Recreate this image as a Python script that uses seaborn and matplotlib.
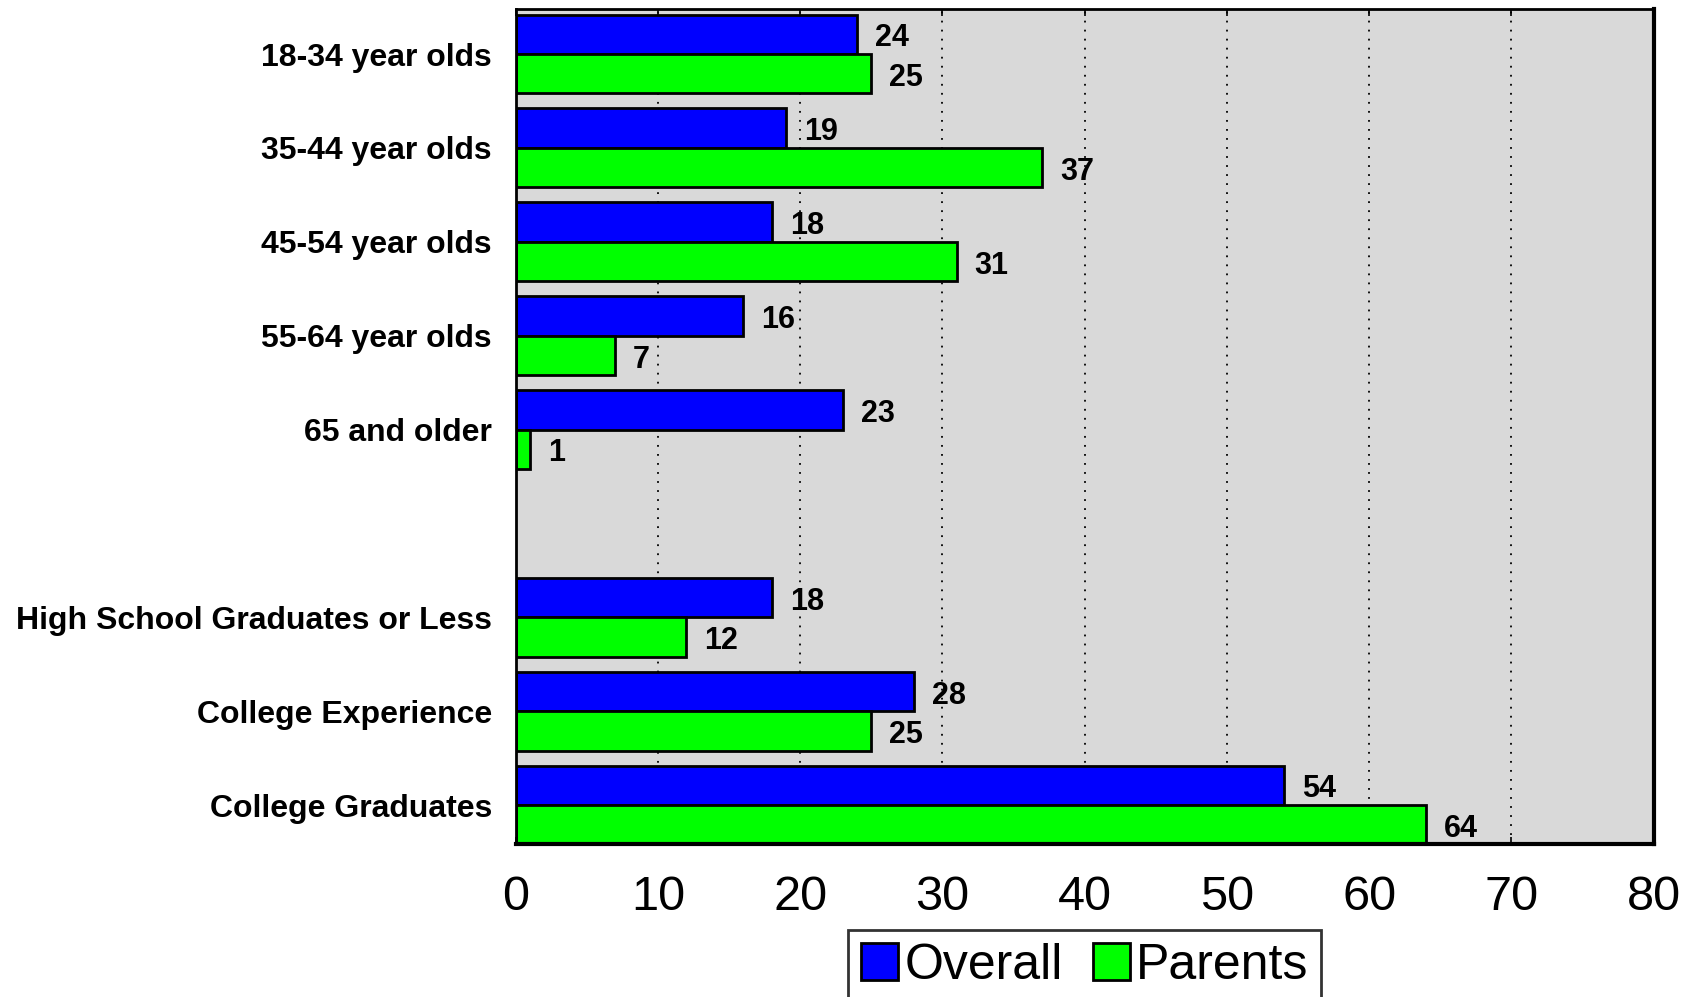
import matplotlib
matplotlib.use("Agg")
import matplotlib.pyplot as plt
import pandas as pd
import seaborn as sns

# chart data
groups = [
    "18-34 year olds",
    "35-44 year olds",
    "45-54 year olds",
    "55-64 year olds",
    "65 and older",
    " ",
    "High School Graduates or Less",
    "College Experience",
    "College Graduates",
]
data_groups = [g for g in groups if g.strip()]
overall = [24, 19, 18, 16, 23, 18, 28, 54]
parents = [25, 37, 31, 7, 1, 12, 25, 64]
series = ["Overall", "Parents"]
x_ticks = [0, 10, 20, 30, 40, 50, 60, 70, 80]

df = pd.DataFrame(
    {
        "Group": data_groups * 2,
        "Series": [series[0]] * len(overall) + [series[1]] * len(parents),
        "Value": overall + parents,
    }
)

sns.set_theme(style="white")
plt.rcParams["font.family"] = ["Liberation Sans", "DejaVu Sans"]
plt.rcParams["text.color"] = "black"
plt.rcParams["xtick.color"] = "black"
plt.rcParams["ytick.color"] = "black"

fig, ax = plt.subplots(figsize=(16.96, 9.97), dpi=100)
fig.subplots_adjust(left=0.304, right=0.975, top=0.991, bottom=0.153)

sns.barplot(
    data=df,
    x="Value",
    y="Group",
    hue="Series",
    order=groups,
    hue_order=series,
    palette=["#0000FF", "#00FF00"],
    orient="h",
    width=0.84,
    gap=0,
    edgecolor="black",
    linewidth=2,
    saturation=1,
    errorbar=None,
    ax=ax,
)

ax.set_facecolor("#D9D9D9")
ax.set_xlim(0, 80)
ax.set_ylim(8.42, -0.48)
ax.set_xticks(x_ticks)
ax.set_xlabel("")
ax.set_ylabel("")

# value labels, slightly below the bar centre like the original
for cont in ax.containers:
    texts = ax.bar_label(cont, fmt="%d", padding=13, fontsize=22,
                         fontweight="bold", color="black")
    for t in texts:
        t.xyann = (13, -3)

ax.xaxis.grid(True, linestyle=(0, (1, 4)), color="black", linewidth=1.3)
ax.yaxis.grid(False)
ax.tick_params(axis="x", direction="in", top=True, bottom=True, length=5,
               width=1.2, color="black", pad=22, labelcolor="black")
ax.tick_params(axis="y", length=0, pad=17, labelcolor="black")
for lab in ax.get_yticklabels():
    lab.set_fontsize(23)
    lab.set_fontweight("bold")
for lab in ax.get_xticklabels():
    lab.set_fontsize(35)

for side in ["left", "top", "right", "bottom"]:
    ax.spines[side].set_visible(True)
    ax.spines[side].set_color("black")
    ax.spines[side].set_linewidth(2)
ax.spines["right"].set_linewidth(3)
ax.spines["bottom"].set_linewidth(3)

# legend sits below the axes, partly cut off by the bottom edge
leg = ax.legend(
    loc="upper center",
    bbox_to_anchor=(0.6395, 0.067),
    bbox_transform=fig.transFigure,
    ncol=2,
    fontsize=36,
    frameon=True,
    fancybox=False,
    handlelength=0.75,
    handleheight=0.75,
    handletextpad=0.12,
    columnspacing=0.6,
    borderpad=0.25,
    borderaxespad=0,
)
leg.get_frame().set_edgecolor("black")
leg.get_frame().set_linewidth(2)
for h in leg.legend_handles:
    h.set_edgecolor("black")
    h.set_linewidth(2)

plt.savefig("out.png", dpi=100)
